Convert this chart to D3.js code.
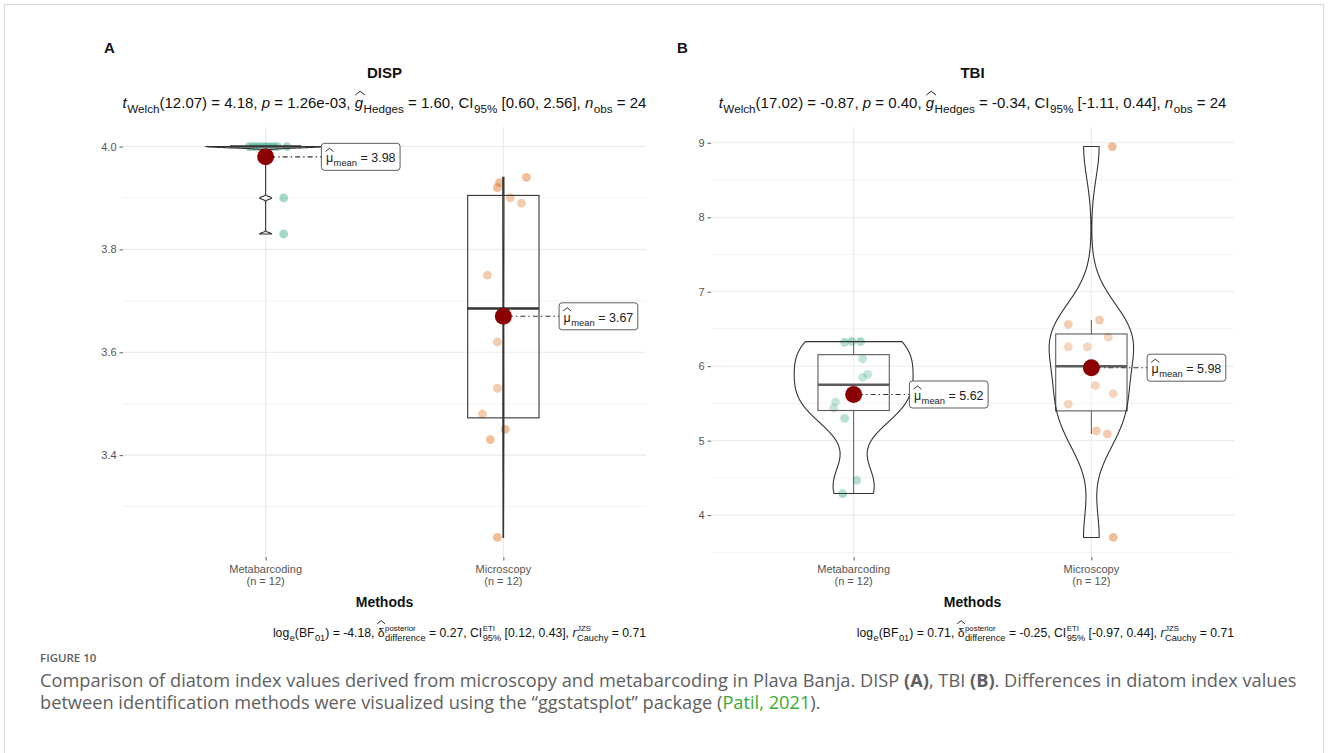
<!DOCTYPE html>
<html>
<head>
<meta charset="utf-8">
<script src="https://cdn.jsdelivr.net/npm/d3@7"></script>
<style>
  body { margin: 0; background: #fff; }
  svg { display: block; }
  text { white-space: pre; }
</style>
</head>
<body>
<svg id="fig" width="1328" height="753"></svg>
<script>
// ---- data -------------------------------------------------------------
const methods = ["Metabarcoding", "Microscopy"];
const groupSizes = ["(n = 12)", "(n = 12)"];

// DISP index per sample
const dispMetabarcoding = [4.00, 4.00, 4.00, 4.00, 4.00, 4.00, 4.00, 4.00, 4.00, 4.00, 3.90, 3.83];
const dispMicroscopy    = [3.94, 3.92, 3.93, 3.90, 3.89, 3.75, 3.62, 3.53, 3.48, 3.45, 3.43, 3.24];

// TBI index per sample
const tbiMetabarcoding  = [6.32, 6.33, 6.33, 6.10, 5.89, 5.85, 5.52, 5.44, 5.30, 4.47, 4.29, 5.65];
const tbiMicroscopy     = [8.95, 6.62, 6.56, 6.39, 6.26, 6.26, 5.74, 5.63, 5.49, 5.13, 5.09, 3.70];

// group means shown in the labels
const dispMeans = [3.98, 3.67];
const tbiMeans  = [5.62, 5.98];

// y-axis ticks
const dispTicks = [3.4, 3.6, 3.8, 4.0];
const dispTickLabels = ["3.4", "3.6", "3.8", "4.0"];
const tbiTicks = [4, 5, 6, 7, 8, 9];
const tbiTickLabels = ["4", "5", "6", "7", "8", "9"];

// horizontal jitter of the sample points (fraction of category spacing)
const dispJitter = [
  [-0.07, -0.055, -0.04, -0.025, -0.01, 0.005, 0.02, 0.035, 0.05, 0.09, 0.076, 0.076],
  [0.097, -0.025, -0.017, 0.029, 0.076, -0.067, -0.025, -0.025, -0.088, 0.008, -0.055, -0.025]
];
const tbiJitter = [
  [-0.038, -0.008, 0.029, 0.038, 0.059, 0.038, -0.076, -0.084, -0.038, 0.013, -0.046, 0.0],
  [0.088, 0.034, -0.097, 0.071, -0.097, -0.017, 0.017, 0.092, -0.097, 0.021, 0.067, 0.092]
];

// ---- helpers ------------------------------------------------------------
const FONT = "'Liberation Sans', Arial, Helvetica, sans-serif";
const svg = d3.select("#fig");
const fmt2 = d3.format(".2f");

// R's bw.nrd0
function nrd0(x) {
  const s = x.slice().sort(d3.ascending);
  const sd = d3.deviation(s);
  const iqr = d3.quantileSorted(s, 0.75) - d3.quantileSorted(s, 0.25);
  let lo = Math.min(sd, iqr / 1.34);
  if (!lo) lo = sd || Math.abs(s[0]) || 1;
  return 0.9 * lo * Math.pow(s.length, -0.2);
}

// gaussian KDE evaluated over the data range (trimmed violin)
function kde(values, bw, n = 512) {
  const lo = d3.min(values), hi = d3.max(values);
  const k = 1 / (values.length * bw * Math.sqrt(2 * Math.PI));
  return d3.range(n).map(i => {
    const v = lo + (hi - lo) * i / (n - 1);
    return { v, d: k * d3.sum(values, xi => Math.exp(-0.5 * ((v - xi) / bw) ** 2)) };
  });
}

// Tukey box statistics (type-7 quantiles)
function boxStats(values) {
  const s = values.slice().sort(d3.ascending);
  const q1 = d3.quantileSorted(s, 0.25), med = d3.quantileSorted(s, 0.5), q3 = d3.quantileSorted(s, 0.75);
  const iqr = q3 - q1;
  const lo = d3.min(s.filter(v => v >= q1 - 1.5 * iqr));
  const hi = d3.max(s.filter(v => v <= q3 + 1.5 * iqr));
  return { q1, med, q3, lo, hi };
}

// Plotmath-like text: italics, subscripts, superscripts and wide hats
function rich(parent, tokens, x, y, anchor, size, color, subScale = 0.75) {
  const g = parent.append("g");
  let cx = 0;
  tokens.forEach(t => {
    const base = g.append("text")
      .attr("x", cx).attr("y", 0)
      .attr("font-family", FONT).attr("font-size", size)
      .attr("font-style", t.it ? "italic" : "normal")
      .attr("fill", color).text(t.s);
    const w = base.node().getComputedTextLength();
    if (t.hat) {
      const tall = t.tall ? 1.08 : 0.86;
      const x0 = cx + (t.it ? 0.5 : -0.5), x1 = cx + w + (t.it ? 2 : 0.5);
      const yb = -size * tall, yt = yb - size * 0.26;
      g.append("path")
        .attr("d", `M${x0},${yb}L${(x0 + x1) / 2},${yt}L${x1},${yb}`)
        .attr("fill", "none").attr("stroke", color).attr("stroke-width", 0.9);
    }
    let sw = 0;
    const ss = size * subScale;
    if (t.sub) {
      const el = g.append("text").attr("x", cx + w + 0.5).attr("y", size * 0.3)
        .attr("font-family", FONT).attr("font-size", ss).attr("fill", color).text(t.sub);
      sw = Math.max(sw, el.node().getComputedTextLength() + 0.5);
    }
    if (t.sup) {
      const el = g.append("text").attr("x", cx + w + 0.5).attr("y", -size * 0.5)
        .attr("font-family", FONT).attr("font-size", ss * 0.85).attr("fill", color).text(t.sup);
      sw = Math.max(sw, el.node().getComputedTextLength() + 0.5);
    }
    cx += w + sw;
  });
  const shift = anchor === "middle" ? -cx / 2 : anchor === "end" ? -cx : 0;
  g.attr("transform", `translate(${x + shift},${y})`);
  return { g, width: cx };
}

// ---- frame ------------------------------------------------------------
svg.append("rect").attr("x", 4.5).attr("y", 4.5).attr("width", 1319).attr("height", 760)
  .attr("fill", "#fff").attr("stroke", "#d6d6d6").attr("stroke-width", 1);

// ---- panels -----------------------------------------------------------
const panels = [
  {
    letter: "A", letterX: 104, title: "DISP",
    groups: [dispMetabarcoding, dispMicroscopy], jitter: dispJitter, means: dispMeans,
    ticks: dispTicks, tickLabels: dispTickLabels, bandwidths: [0.0025, null],
    left: 123, right: 646,
    subtitle: [
      { s: "t", it: 1, sub: "Welch" }, { s: "(12.07) = 4.18, " }, { s: "p", it: 1 }, { s: " = 1.26e-03, " },
      { s: "g", it: 1, hat: 1, sub: "Hedges" }, { s: " = 1.60, CI", sub: "95%" }, { s: " [0.60, 2.56], " },
      { s: "n", it: 1, sub: "obs" }, { s: " = 24" }
    ],
    caption: [
      { s: "log", sub: "e" }, { s: "(BF", sub: "01" }, { s: ") = -4.18, " },
      { s: "δ", hat: 1, tall: 1, sup: "posterior", sub: "difference" }, { s: " = 0.27, CI", sup: "ETI", sub: "95%" },
      { s: " [0.12, 0.43], " }, { s: "r", it: 1, sup: "JZS", sub: "Cauchy" }, { s: " = 0.71" }
    ]
  },
  {
    letter: "B", letterX: 677, title: "TBI",
    groups: [tbiMetabarcoding, tbiMicroscopy], jitter: tbiJitter, means: tbiMeans,
    ticks: tbiTicks, tickLabels: tbiTickLabels, bandwidths: [null, null],
    left: 711, right: 1234,
    subtitle: [
      { s: "t", it: 1, sub: "Welch" }, { s: "(17.02) = -0.87, " }, { s: "p", it: 1 }, { s: " = 0.40, " },
      { s: "g", it: 1, hat: 1, sub: "Hedges" }, { s: " = -0.34, CI", sub: "95%" }, { s: " [-1.11, 0.44], " },
      { s: "n", it: 1, sub: "obs" }, { s: " = 24" }
    ],
    caption: [
      { s: "log", sub: "e" }, { s: "(BF", sub: "01" }, { s: ") = 0.71, " },
      { s: "δ", hat: 1, tall: 1, sup: "posterior", sub: "difference" }, { s: " = -0.25, CI", sup: "ETI", sub: "95%" },
      { s: " [-0.97, 0.44], " }, { s: "r", it: 1, sup: "JZS", sub: "Cauchy" }, { s: " = 0.71" }
    ]
  }
];

const colors = ["#1B9E77", "#D95F02"];
const TOP = 127, BOTTOM = 557;
const ink = "#333333";

panels.forEach(p => {
  const g = svg.append("g");
  const all = p.groups.flat();
  const [mn, mx] = d3.extent(all);
  const pad = (mx - mn) * 0.05;
  const y = d3.scaleLinear().domain([mn - pad, mx + pad]).range([BOTTOM, TOP]);
  const x = d3.scalePoint().domain(methods).range([p.left, p.right]).padding(0.6);
  const step = x.step();
  const cx = (p.left + p.right) / 2;

  // grid: minor lines halfway between major ticks
  const tStep = p.ticks[1] - p.ticks[0];
  const minor = d3.range(p.ticks.length + 1).map(i => p.ticks[0] - tStep / 2 + i * tStep)
    .filter(v => v > y.domain()[0] && v < y.domain()[1]);
  g.selectAll(".minor").data(minor).join("line")
    .attr("x1", p.left).attr("x2", p.right).attr("y1", d => y(d)).attr("y2", d => y(d))
    .attr("stroke", "#efefef").attr("stroke-width", 0.8);
  g.selectAll(".major").data(p.ticks).join("line")
    .attr("x1", p.left).attr("x2", p.right).attr("y1", d => y(d)).attr("y2", d => y(d))
    .attr("stroke", "#e9e9e9").attr("stroke-width", 1.1);
  g.selectAll(".vmajor").data(methods).join("line")
    .attr("x1", d => x(d)).attr("x2", d => x(d)).attr("y1", TOP).attr("y2", BOTTOM)
    .attr("stroke", "#e9e9e9").attr("stroke-width", 1.1);

  // y axis
  const ya = g.append("g").attr("transform", `translate(${p.left},0)`)
    .call(d3.axisLeft(y).tickValues(p.ticks).tickFormat((d, i) => p.tickLabels[i]).tickSize(3.5).tickPadding(3));
  ya.select(".domain").remove();
  ya.selectAll(".tick line").attr("stroke", ink).attr("stroke-width", 0.8);
  ya.selectAll(".tick text").attr("font-family", FONT).attr("font-size", 11).attr("fill", "#555");

  // x axis
  const xa = g.append("g").attr("transform", `translate(0,${BOTTOM})`)
    .call(d3.axisBottom(x).tickSize(3.5).tickFormat(""));
  xa.select(".domain").remove();
  xa.selectAll(".tick line").attr("stroke", ink).attr("stroke-width", 0.8);
  methods.forEach((m, i) => {
    g.append("text").attr("x", x(m)).attr("y", BOTTOM + 16).attr("text-anchor", "middle")
      .attr("font-family", FONT).attr("font-size", 11).attr("fill", "#555").text(m);
    g.append("text").attr("x", x(m)).attr("y", BOTTOM + 28).attr("text-anchor", "middle")
      .attr("font-family", FONT).attr("font-size", 11).attr("fill", "#555").text(groupSizes[i]);
  });

  // sample points
  p.groups.forEach((vals, gi) => {
    g.selectAll(null).data(vals).join("circle")
      .attr("cx", (d, i) => x(methods[gi]) + p.jitter[gi][i] * step)
      .attr("cy", d => y(d)).attr("r", 4.4)
      .attr("fill", colors[gi]).attr("fill-opacity", 0.4);
  });

  // boxplots
  p.groups.forEach((vals, gi) => {
    const b = boxStats(vals);
    const c = x(methods[gi]), hw = 0.15 * step;
    g.append("line").attr("x1", c).attr("x2", c).attr("y1", y(b.q3)).attr("y2", y(b.hi))
      .attr("stroke", ink).attr("stroke-width", 1);
    g.append("line").attr("x1", c).attr("x2", c).attr("y1", y(b.q1)).attr("y2", y(b.lo))
      .attr("stroke", ink).attr("stroke-width", 1);
    g.append("rect").attr("x", c - hw).attr("width", 2 * hw)
      .attr("y", y(b.q3)).attr("height", Math.max(0, y(b.q1) - y(b.q3)))
      .attr("fill", "#fff").attr("fill-opacity", 0.2).attr("stroke", ink).attr("stroke-width", 1.1);
    g.append("line").attr("x1", c - hw).attr("x2", c + hw).attr("y1", y(b.med)).attr("y2", y(b.med))
      .attr("stroke", ink).attr("stroke-width", 2.4);
  });

  // violins (area-scaled within panel)
  const dens = p.groups.map((vals, gi) => kde(vals, p.bandwidths[gi] || nrd0(vals), 1024));
  const dmax = d3.max(dens.flat(), d => d.d);
  dens.forEach((dd, gi) => {
    const c = x(methods[gi]);
    const w = d => d.d / dmax * 0.25 * step;
    const area = d3.area().y(d => y(d.v)).x0(d => c - w(d)).x1(d => c + w(d));
    g.append("path").attr("d", area(dd) + "Z")
      .attr("fill", "#fff").attr("fill-opacity", 0.2).attr("stroke", ink).attr("stroke-width", 1.1);
  });

  // means with labels
  p.means.forEach((m, gi) => {
    const c = x(methods[gi]), my = y(m);
    const lx = c + 0.4 * step;
    const lab = g.append("g");
    const rt = rich(lab, [{ s: "μ", hat: 1, sub: "mean" }, { s: " = " + fmt2(m) }], 0, 0, "start", 12.5, "#222");
    const bw = rt.width + 9, bh = 27;
    const bx = lx - bw / 2, by = my - bh / 2;
    g.append("line").attr("x1", c).attr("x2", bx).attr("y1", my).attr("y2", my)
      .attr("stroke", ink).attr("stroke-width", 1.1).attr("stroke-dasharray", "1.5,3,5,3");
    g.append("circle").attr("cx", c).attr("cy", my).attr("r", 8.5).attr("fill", "#8B0000");
    lab.raise();
    lab.insert("rect", ":first-child").attr("x", bx).attr("y", by).attr("width", bw).attr("height", bh)
      .attr("rx", 3).attr("fill", "#fff").attr("stroke", ink).attr("stroke-width", 0.8);
    rt.g.attr("transform", `translate(${bx + 4.5},${by + 19})`);
  });

  // titles
  svg.append("text").attr("x", p.letterX).attr("y", 53).attr("font-family", FONT)
    .attr("font-weight", "bold").attr("font-size", 15).attr("fill", "#111").text(p.letter);
  svg.append("text").attr("x", cx).attr("y", 78).attr("text-anchor", "middle").attr("font-family", FONT)
    .attr("font-weight", "bold").attr("font-size", 15).attr("fill", "#111").text(p.title);
  rich(svg, p.subtitle, cx, 108, "middle", 15, "#111", 0.78);
  svg.append("text").attr("x", cx).attr("y", 607).attr("text-anchor", "middle").attr("font-family", FONT)
    .attr("font-weight", "bold").attr("font-size", 14).attr("fill", "#111").text("Methods");
  rich(svg, p.caption, p.right, 637, "end", 12.2, "#111", 0.76);
});

// ---- figure caption ---------------------------------------------------
const CAP = "'Open Sans', 'Noto Sans', sans-serif";
const capColor = "#606060";
svg.append("text").attr("x", 40).attr("y", 662).attr("font-family", CAP).attr("font-weight", 600)
  .attr("font-size", 11.5).attr("fill", capColor).text("FIGURE 10");

const line1 = svg.append("text").attr("x", 40).attr("y", 687).attr("font-family", CAP)
  .attr("font-size", 15).attr("fill", capColor);
line1.append("tspan").text("Comparison of diatom index values derived from microscopy and metabarcoding in Plava Banja. DISP ");
line1.append("tspan").attr("font-weight", "bold").text("(A)");
line1.append("tspan").text(", TBI ");
line1.append("tspan").attr("font-weight", "bold").text("(B)");
line1.append("tspan").text(". Differences in diatom index values");

const line2 = svg.append("text").attr("x", 40).attr("y", 709).attr("font-family", CAP)
  .attr("font-size", 15).attr("fill", capColor);
line2.append("tspan").text("between identification methods were visualized using the \u201Cggstatsplot\u201D package (");
line2.append("tspan").attr("fill", "#3AAA35").text("Patil, 2021");
line2.append("tspan").text(").");

// fit the caption to the text block width
const natural = line1.node().getComputedTextLength();
const fs = 15 * 1257 / natural;
line1.attr("font-size", fs);
line2.attr("font-size", fs);
</script>
</body>
</html>
